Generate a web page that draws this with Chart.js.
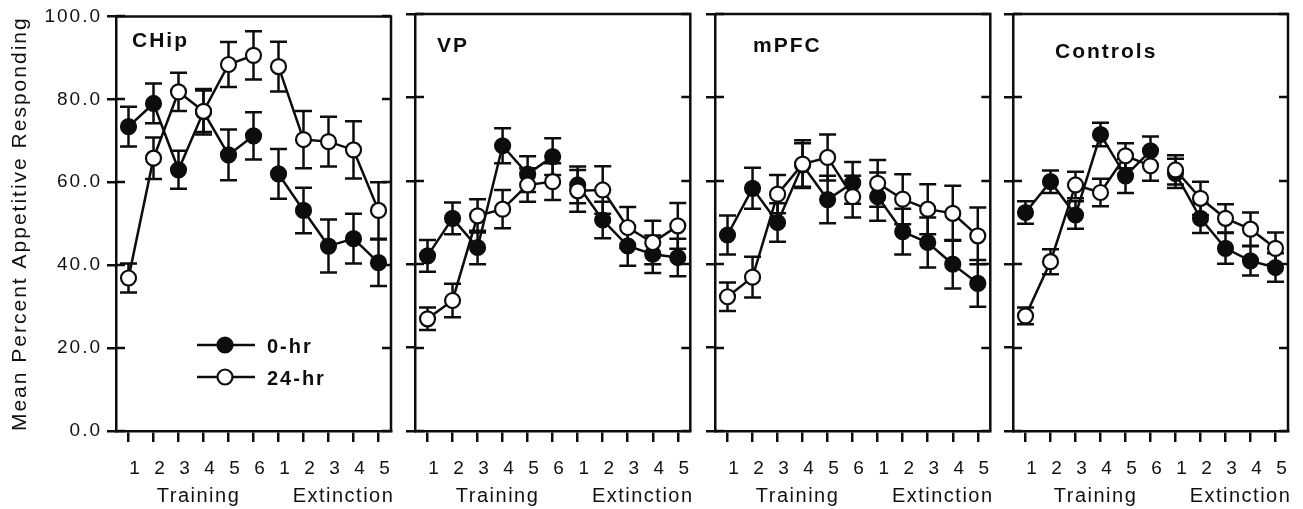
<!DOCTYPE html>
<html>
<head>
<meta charset="utf-8">
<script src="https://cdn.jsdelivr.net/npm/chart.js@4.4.0/dist/chart.umd.min.js"></script>
<style>
  html, body { margin: 0; padding: 0; background: #fff; }
  #wrap { position: relative; width: 1303px; height: 509px; overflow: hidden; }
  #wrap canvas { position: absolute; top: 0; }
</style>
</head>
<body>
<div id="wrap">
  <canvas id="p0" width="405" height="509" style="left:0px"></canvas>
  <canvas id="p1" width="300" height="509" style="left:400px"></canvas>
  <canvas id="p2" width="300" height="509" style="left:700px"></canvas>
  <canvas id="p3" width="308" height="509" style="left:995px"></canvas>
</div>
<script>
// sessions: 6 training days then 5 extinction days
const xLabels = ['1', '2', '3', '4', '5', '6', '1', '2', '3', '4', '5'];
const phaseNames = ['Training', 'Extinction'];
const panelNames = ['CHip', 'VP', 'mPFC', 'Controls'];
const seriesNames = ['0-hr', '24-hr'];
const yLabel = 'Mean Percent Appetitive Responding';

// CHip
const chipZero = [73.4, 79.0, 63.0, 77.0, 66.6, 71.2, 62.0, 53.2, 44.6, 46.4, 40.6];
const chipZeroSe = [4.8, 4.8, 4.6, 5.5, 6.1, 5.7, 6.0, 5.5, 6.4, 6.0, 5.6];
const chipDay = [36.9, 65.8, 81.8, 77.1, 88.4, 90.6, 87.9, 70.3, 69.8, 67.8, 53.2];
const chipDaySe = [3.5, 5.0, 4.6, 5.0, 5.4, 5.8, 6.0, 6.9, 6.0, 6.9, 6.8];

// VP
const vpZero = [42.0, 51.0, 44.0, 68.4, 61.6, 65.8, 59.0, 50.6, 44.4, 42.4, 41.6];
const vpZeroSe = [3.8, 3.8, 4.0, 4.2, 4.3, 4.4, 4.4, 4.4, 4.8, 4.5, 4.5];
const vpDay = [26.9, 31.3, 51.6, 53.2, 59.0, 59.8, 57.6, 57.8, 48.8, 45.2, 49.2];
const vpDaySe = [2.7, 4.0, 4.0, 4.6, 4.0, 4.4, 5.0, 5.7, 4.9, 5.2, 5.5];

// mPFC
const mpfcZero = [47.0, 58.2, 50.0, 63.8, 55.5, 59.5, 56.2, 47.8, 45.2, 40.0, 35.4];
const mpfcZeroSe = [4.7, 4.9, 4.6, 5.2, 5.7, 5.0, 5.8, 5.5, 6.0, 5.8, 5.6];
const mpfcDay = [32.2, 36.9, 56.8, 64.0, 65.6, 56.2, 59.4, 55.6, 53.2, 52.2, 46.8];
const mpfcDaySe = [3.4, 4.9, 4.6, 5.7, 5.5, 5.0, 5.6, 6.0, 6.0, 6.6, 6.8];

// Controls
const ctrlZero = [52.4, 59.8, 51.8, 71.1, 61.2, 67.2, 61.8, 51.0, 43.8, 40.8, 39.2];
const ctrlZeroSe = [2.7, 2.7, 3.3, 2.8, 4.1, 3.4, 3.5, 3.5, 3.7, 3.5, 3.4];
const ctrlDay = [27.6, 40.6, 59.0, 57.2, 66.0, 63.6, 62.6, 55.8, 51.0, 48.4, 43.8];
const ctrlDaySe = [2.0, 3.0, 3.2, 3.3, 3.0, 3.6, 3.5, 4.0, 3.4, 4.0, 3.8];

const ink = '#0d0d0d';
const family = "'Liberation Sans', Arial, Helvetica, sans-serif";
Chart.defaults.font.family = family;
Chart.defaults.color = '#111';

// canvas placement: chart area left/right in page pixels
const panels = [
  { id: 'p0', left: 0,   width: 405, areaLeft: 116,  areaRight: 391,  zero: chipZero, zeroSe: chipZeroSe, day: chipDay, daySe: chipDaySe, tdx: 16, tby: 47, legend: true },
  { id: 'p1', left: 400, width: 300, areaLeft: 415,  areaRight: 691,  zero: vpZero,   zeroSe: vpZeroSe,   day: vpDay,   daySe: vpDaySe,   tdx: 22, tby: 52 },
  { id: 'p2', left: 700, width: 300, areaLeft: 715,  areaRight: 991,  zero: mpfcZero, zeroSe: mpfcZeroSe, day: mpfcDay, daySe: mpfcDaySe, tdx: 38, tby: 52 },
  { id: 'p3', left: 995, width: 308, areaLeft: 1013, areaRight: 1288, zero: ctrlZero, zeroSe: ctrlZeroSe, day: ctrlDay, daySe: ctrlDaySe, tdx: 42, tby: 58 }
];

function drawMarker(ctx, x, y, filled) {
  ctx.beginPath();
  ctx.arc(x, y, 7.5, 0, Math.PI * 2);
  ctx.fillStyle = filled ? ink : '#fff';
  ctx.fill();
  ctx.lineWidth = 2.2;
  ctx.strokeStyle = ink;
  ctx.stroke();
}

const sheet = {
  id: 'sheet',
  beforeUpdate(chart) { chart.ctx.letterSpacing = '2px'; },
  beforeDraw(chart) { chart.ctx.letterSpacing = '2px'; },
  beforeDatasetsDraw(chart) {
    // error bars (SEM) under the markers
    const { ctx, scales: { y } } = chart;
    ctx.save();
    ctx.strokeStyle = ink;
    ctx.lineWidth = 2.5;
    chart.data.datasets.forEach((ds, i) => {
      chart.getDatasetMeta(i).data.forEach((pt, j) => {
        const top = y.getPixelForValue(ds.data[j] + ds.errors[j]);
        const bot = y.getPixelForValue(ds.data[j] - ds.errors[j]);
        ctx.beginPath();
        ctx.moveTo(pt.x, top); ctx.lineTo(pt.x, bot);
        ctx.moveTo(pt.x - 8.5, top); ctx.lineTo(pt.x + 8.5, top);
        ctx.moveTo(pt.x - 8.5, bot); ctx.lineTo(pt.x + 8.5, bot);
        ctx.stroke();
      });
    });
    ctx.restore();
  },
  afterDraw(chart, args, opts) {
    const { ctx, chartArea: ca, scales: { x, y } } = chart;
    ctx.save();
    ctx.strokeStyle = ink;
    ctx.lineWidth = 2.5;
    // top and right frame
    ctx.beginPath();
    ctx.moveTo(ca.left, ca.top); ctx.lineTo(ca.right, ca.top); ctx.lineTo(ca.right, ca.bottom);
    ctx.stroke();
    // inward tick marks on both sides
    y.ticks.forEach(t => {
      const py = Math.round(y.getPixelForValue(t.value));
      ctx.beginPath();
      ctx.moveTo(ca.left, py); ctx.lineTo(ca.left + 9, py);
      ctx.moveTo(ca.right - 9, py); ctx.lineTo(ca.right, py);
      ctx.stroke();
    });

    // phase labels under the session numbers
    ctx.fillStyle = '#111';
    ctx.font = '20px ' + family;
    ctx.letterSpacing = '1.5px';
    ctx.textAlign = 'center';
    ctx.textBaseline = 'alphabetic';
    ctx.fillText(phaseNames[0], x.getPixelForValue(2.8), 502);
    ctx.fillText(phaseNames[1], x.getPixelForValue(8.6), 502);

    // panel title
    ctx.font = 'bold 21px ' + family;
    ctx.letterSpacing = '2px';
    ctx.textAlign = 'left';
    ctx.fillStyle = ink;
    ctx.fillText(opts.title, ca.left + opts.dx, opts.baseline);

    if (opts.legend) {
      ctx.font = 'bold 20px ' + family;
      seriesNames.forEach((name, i) => {
        const ly = 345 + i * 32;
        ctx.beginPath();
        ctx.moveTo(ca.left + 81, ly); ctx.lineTo(ca.left + 139, ly);
        ctx.lineWidth = 2.5;
        ctx.strokeStyle = ink;
        ctx.stroke();
        drawMarker(ctx, ca.left + 109, ly, i === 0);
        ctx.fillStyle = ink;
        ctx.fillText(name, ca.left + 151, ly + 8);
      });
    }
    ctx.restore();
  }
};

// no line between the last training day and the first extinction day
const breakPhase = c => (c.p0DataIndex === 5 ? 'rgba(0,0,0,0)' : ink);

panels.forEach((p, k) => {
  const yWidth = p.areaLeft - p.left;
  const padRight = p.left + p.width - p.areaRight;
  new Chart(document.getElementById(p.id), {
    type: 'line',
    data: {
      labels: xLabels,
      datasets: [
        {
          label: seriesNames[0], data: p.zero, errors: p.zeroSe, order: 2,
          borderColor: ink, borderWidth: 2.5, backgroundColor: ink,
          pointBackgroundColor: ink, pointBorderColor: ink, pointBorderWidth: 2.2, pointRadius: 7.5,
          segment: { borderColor: breakPhase }
        },
        {
          label: seriesNames[1], data: p.day, errors: p.daySe, order: 1,
          borderColor: ink, borderWidth: 2.5, backgroundColor: '#fff',
          pointBackgroundColor: '#fff', pointBorderColor: ink, pointBorderWidth: 2.2, pointRadius: 7.5,
          segment: { borderColor: breakPhase }
        }
      ]
    },
    options: {
      responsive: false,
      animation: false,
      devicePixelRatio: 1,
      layout: { padding: { top: 14, right: padRight, left: 0, bottom: 0 } },
      scales: {
        x: {
          type: 'category',
          offset: true,
          afterFit: s => { s.height = 78; },
          grid: { offset: false, drawOnChartArea: false, drawTicks: true, tickLength: 11, color: ink, lineWidth: 2.5 },
          border: { display: true, color: ink, width: 2.5 },
          ticks: { font: { size: 19 }, padding: 15, labelOffset: 7, maxRotation: 0, autoSkip: false }
        },
        y: {
          min: 0, max: 100,
          afterFit: s => { s.width = yWidth; },
          grid: { drawOnChartArea: false, drawTicks: true, tickLength: 9, color: ink, lineWidth: 2.5 },
          border: { display: true, color: ink, width: 2.5 },
          ticks: { display: k === 0, stepSize: 20, padding: 5, font: { size: 19 }, callback: v => v.toFixed(1) },
          title: { display: k === 0, text: yLabel, font: { size: 21 }, padding: { top: 8, bottom: 0 } }
        }
      },
      plugins: {
        legend: { display: false },
        tooltip: { enabled: false },
        sheet: { title: panelNames[k], dx: p.tdx, baseline: p.tby, legend: !!p.legend }
      }
    },
    plugins: [sheet]
  });
});
</script>
</body>
</html>
